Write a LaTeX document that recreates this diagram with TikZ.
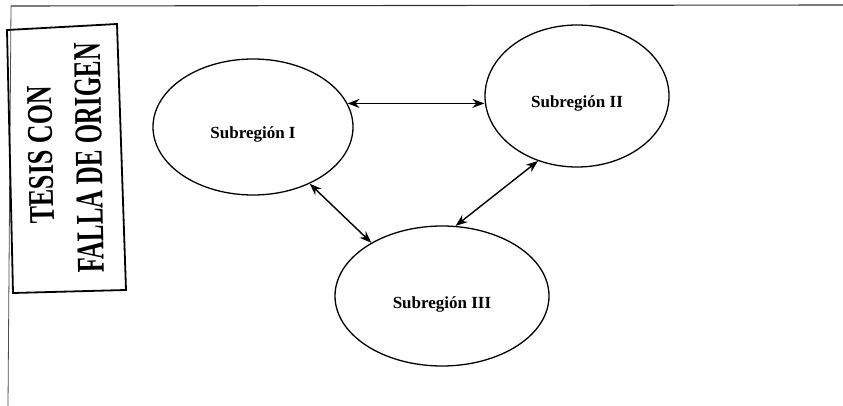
\documentclass[tikz,border=0pt]{standalone}
\usepackage{fontspec}
\setmainfont{Liberation Serif}
\usetikzlibrary{shapes.geometric,arrows.meta}

\begin{document}
\begin{tikzpicture}[x=1pt,y=-1pt]
          \tikzstyle{Region}=[ellipse,draw,line width=1.3pt,inner sep=0pt,
            text height=24pt,text depth=0pt,font=\fontsize{17}{20}\selectfont\bfseries]
          \tikzstyle{Link}=[{Stealth[length=12pt,width=9pt]}-{Stealth[length=12pt,width=9pt]},line width=1.4pt]
          \tikzstyle{Stamp}=[rotate=91,inner sep=0pt,font=\bfseries]
          \useasboundingbox (0,0) rectangle (843,406);
          % page edges
          \draw[line width=1.1pt,black!80] (11,6) -- (843,5);
          \draw[line width=0.8pt,black!70] (11,6) -- (8,406);
          % stamp
          \draw[line width=1.8pt] (7,30) -- (117,24) -- (126,290) -- (13,293) -- cycle;
          \node[Stamp] (tesis) at (41,155) {\resizebox{138pt}{24pt}{TESIS CON}};
          \node[Stamp] (falla) at (89,158) {\resizebox{230pt}{26pt}{FALLA DE ORIGEN}};
          % subregions
          \node[Region,minimum width=200pt,minimum height=136pt] (I) at (253,127) {Subregión I};
          \node[Region,minimum width=184pt,minimum height=142pt] (II) at (577,96) {Subregión II};
          \node[Region,minimum width=214pt,minimum height=140pt] (III) at (442,296) {Subregión III};
          % links
          \draw[Link] (I.14) -- (I.14 -| II.west);
          \draw[Link] (I.-45) -- (III.143);
          \draw[Link] (II.239) -- (III.79);
        \end{tikzpicture}
\end{document}
